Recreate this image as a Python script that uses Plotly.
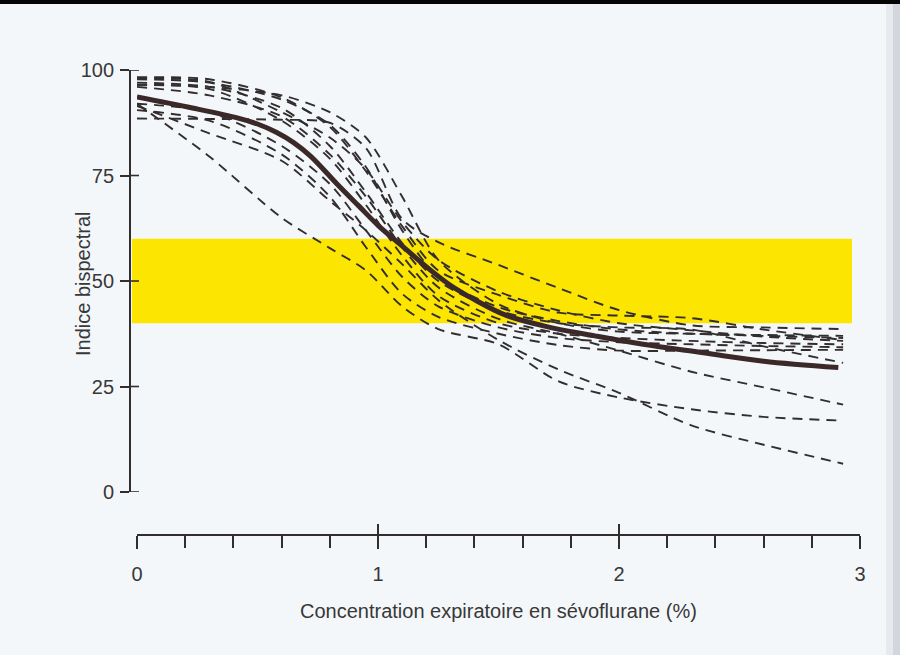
import plotly.graph_objects as go

# Expired sevoflurane concentration (%) at which each individual curve is sampled
conc_grid = [0, 0.3, 0.6, 0.8, 0.95, 1.1, 1.25, 1.5, 1.75, 2.0, 2.3, 2.6, 2.93]

# Individual bispectral index curves (dashed)
patient_01 = [88.5, 88.4, 88.2, 87.5, 81.5, 64.7, 59.2, 53.8, 48.3, 43.1, 39.5, 39.0, 38.6]
patient_02 = [98.3, 97.8, 93.5, 86.5, 76.0, 63.0, 52.5, 46.7, 42.5, 41.8, 41.2, 38.5, 36.0]
patient_03 = [98.0, 97.2, 90.0, 84.0, 76.5, 64.0, 55.0, 47.5, 43.0, 40.0, 38.3, 36.8, 35.8]
patient_04 = [92.0, 79.5, 65.0, 57.8, 52.5, 44.0, 38.6, 35.0, 26.2, 22.4, 19.6, 17.8, 16.9]
patient_05 = [91.5, 85.0, 78.5, 69.0, 62.0, 54.0, 45.5, 36.0, 29.0, 23.5, 15.8, 11.2, 6.7]
patient_06 = [96.0, 94.0, 89.0, 80.0, 70.0, 58.0, 48.5, 41.0, 37.5, 33.5, 28.5, 24.8, 20.7]
patient_07 = [90.5, 88.0, 80.0, 70.0, 58.0, 47.0, 41.5, 37.5, 34.8, 33.5, 33.5, 33.6, 33.7]
patient_08 = [97.0, 96.0, 91.0, 82.0, 71.0, 59.0, 50.0, 43.0, 40.0, 39.0, 38.5, 34.5, 30.6]
patient_09 = [96.5, 95.5, 88.0, 79.0, 68.0, 56.0, 46.5, 40.0, 37.5, 36.5, 35.8, 35.3, 35.0]
patient_10 = [92.0, 90.0, 82.0, 73.0, 62.0, 51.0, 44.0, 39.0, 36.5, 35.5, 35.0, 34.6, 34.3]
patient_11 = [97.8, 97.0, 93.0, 87.0, 77.0, 62.0, 51.0, 43.8, 40.5, 38.5, 37.5, 37.0, 36.5]
patient_12 = [96.5, 96.0, 94.0, 90.0, 84.0, 70.0, 55.0, 44.5, 40.0, 38.0, 37.5, 37.2, 37.0]

patients = [patient_01, patient_02, patient_03, patient_04, patient_05, patient_06,
            patient_07, patient_08, patient_09, patient_10, patient_11, patient_12]

# Population (mean) curve (solid)
mean_conc = [0, 0.23, 0.42, 0.5, 0.58, 0.65, 0.72, 0.83, 0.92, 1.0, 1.1, 1.2, 1.3, 1.4,
             1.53, 1.7, 1.9, 2.1, 2.35, 2.6, 2.91]
mean_bis = [93.6, 91.0, 88.6, 87.2, 85.2, 82.8, 79.6, 73.0, 67.8, 63.2, 58.3, 53.4, 49.0, 45.6,
            41.9, 39.2, 37.0, 35.0, 33.0, 31.0, 29.5]

# Target range for adequate anaesthesia
target_band = [40, 60]

y_ticks = [0, 25, 50, 75, 100]
x_major = [0, 1, 2, 3]

ink = "#332e2e"
text_col = "#383838"
bg = "#f4f7fa"
font_family = "Liberation Sans, Arial, sans-serif"

W, H = 900, 655
ML, MR, MT, MB = 130, 40, 70, 120
plot_w = W - ML - MR
plot_h = H - MT - MB


def px_x(p):
    return (p - ML) / plot_w


def px_y(p):
    return (H - MB - p) / plot_h


fig = go.Figure()

for ys in patients:
    fig.add_trace(go.Scatter(
        x=conc_grid, y=ys, mode="lines",
        line=dict(color=ink, width=1.9, dash="10px,7px", shape="spline", smoothing=0.8),
        hoverinfo="skip", showlegend=False,
    ))

fig.add_trace(go.Scatter(
    x=mean_conc, y=mean_bis, mode="lines",
    line=dict(color="#3b2828", width=5, shape="spline", smoothing=1.0),
    hoverinfo="skip", showlegend=False,
))

# helper trace so the overlay x axis (upper half of each major tick) is drawn
fig.add_trace(go.Scatter(x=[0], y=[0], xaxis="x2", yaxis="y", mode="markers",
                         marker=dict(opacity=0, size=1), hoverinfo="skip", showlegend=False))

x_dom = [px_x(137), 1.0]
y_dom = [px_y(492), 1.0]

shapes = [
    # target BIS range
    dict(type="rect", xref="paper", yref="y", layer="below",
         x0=px_x(132), x1=px_x(852), y0=target_band[0], y1=target_band[1],
         fillcolor="#fce500", line=dict(width=0)),
    # scanned page edges
    dict(type="rect", xref="paper", yref="paper", layer="above",
         x0=px_x(0), x1=px_x(900), y0=px_y(4), y1=px_y(0),
         fillcolor="#050505", line=dict(width=0)),
    dict(type="rect", xref="paper", yref="paper", layer="above",
         x0=px_x(886), x1=px_x(893), y0=px_y(655), y1=px_y(4),
         fillcolor="#e6e9ee", line=dict(width=0)),
    dict(type="rect", xref="paper", yref="paper", layer="above",
         x0=px_x(893), x1=px_x(900), y0=px_y(655), y1=px_y(4),
         fillcolor="#d3d7dd", line=dict(width=0)),
]
# right-hand half of the y ticks (they cross the axis line)
for v in y_ticks:
    shapes.append(dict(type="line", xref="paper", yref="y", layer="above",
                       x0=0, x1=px_x(139), y0=v, y1=v,
                       line=dict(color=ink, width=1.6)))

fig.update_layout(
    width=W, height=H,
    margin=dict(l=ML, r=MR, t=MT, b=MB),
    paper_bgcolor=bg, plot_bgcolor=bg,
    font=dict(family=font_family, color=text_col, size=20),
    xaxis=dict(
        domain=x_dom, range=[0, 3], anchor="free", position=0,
        showgrid=False, zeroline=False,
        showline=True, linecolor=ink, linewidth=1.8,
        tickvals=x_major, ticktext=[str(v) for v in x_major],
        ticks="outside", ticklen=13, tickwidth=1.6, tickcolor=ink,
        ticklabelstandoff=8,
        minor=dict(dtick=0.2, ticks="outside", ticklen=12, tickwidth=1.6, tickcolor=ink),
        tickfont=dict(size=20, color=text_col),
    ),
    xaxis2=dict(
        overlaying="x", range=[0, 3], anchor="free", position=0,
        showgrid=False, zeroline=False, showline=False,
        tickvals=x_major, showticklabels=False,
        ticks="inside", ticklen=11, tickwidth=1.6, tickcolor=ink,
    ),
    yaxis=dict(
        domain=y_dom, range=[0, 100], anchor="free", position=0,
        showgrid=False, zeroline=False,
        showline=True, linecolor=ink, linewidth=1.8,
        tickvals=y_ticks, ticks="outside", ticklen=9, tickwidth=1.6, tickcolor=ink,
        ticklabelstandoff=2,
        tickfont=dict(size=20, color=text_col),
    ),
    shapes=shapes,
    annotations=[
        dict(text="Indice bispectral", xref="paper", yref="paper",
             x=px_x(83), y=px_y(284), textangle=-90, showarrow=False,
             font=dict(size=20, color=text_col), xanchor="center", yanchor="middle"),
        dict(text="Concentration expiratoire en sévoflurane (%)", xref="paper", yref="paper",
             x=px_x(498), y=px_y(611), showarrow=False,
             font=dict(size=20, color=text_col), xanchor="center", yanchor="middle"),
    ],
)

fig.write_html("out.html")
